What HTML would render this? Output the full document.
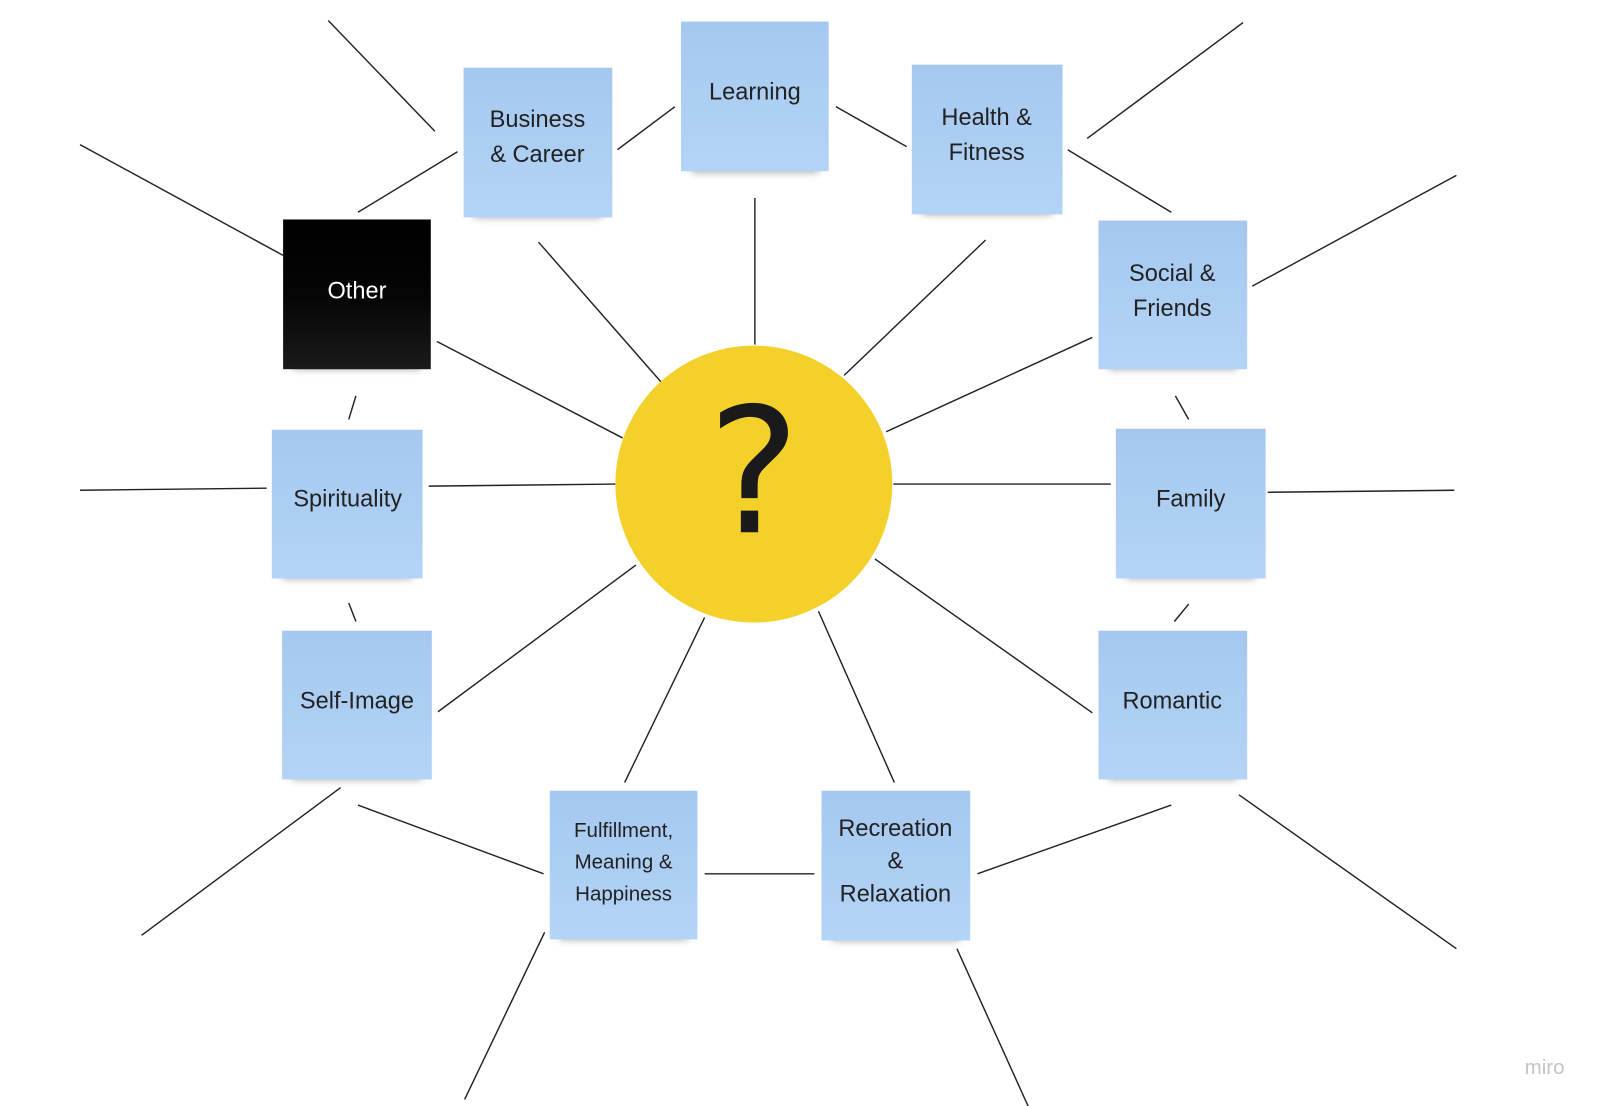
<!DOCTYPE html>
<html><head><meta charset="utf-8"><style>
html,body{margin:0;padding:0;background:#fff;}
svg{display:block;}
text{font-family:"Liberation Sans","DejaVu Sans",sans-serif;}
</style></head><body>
<svg width="1600" height="1106" viewBox="0 0 1560 1078.4" xmlns="http://www.w3.org/2000/svg">
<defs>
<linearGradient id="b" x1="0" y1="0" x2="0" y2="1"><stop offset="0" stop-color="#a6c8f0"/><stop offset="1" stop-color="#b3d4f6"/></linearGradient>
<linearGradient id="k" x1="0" y1="0" x2="0" y2="1"><stop offset="0" stop-color="#000"/><stop offset="0.5" stop-color="#050505"/><stop offset="1" stop-color="#1a1a1a"/></linearGradient>
<filter id="s" x="-20%" y="-20%" width="140%" height="160%"><feGaussianBlur stdDeviation="4"/></filter>
</defs>
<g stroke="#222" stroke-width="1.4" fill="none">
<line x1="320" y1="20" x2="424" y2="128"/>
<line x1="78" y1="141" x2="276" y2="249"/>
<line x1="349" y1="207" x2="446" y2="148"/>
<line x1="602" y1="146" x2="658" y2="104"/>
<line x1="815" y1="104" x2="884" y2="143"/>
<line x1="1060" y1="135" x2="1212" y2="22"/>
<line x1="1041" y1="146" x2="1142" y2="207"/>
<line x1="1221" y1="279" x2="1420" y2="171"/>
<line x1="1146" y1="386" x2="1159" y2="409"/>
<line x1="1236" y1="480" x2="1418" y2="478"/>
<line x1="1145" y1="606" x2="1159" y2="589"/>
<line x1="1208" y1="775" x2="1420" y2="925"/>
<line x1="953" y1="852" x2="1142" y2="785"/>
<line x1="933" y1="925" x2="1004" y2="1082"/>
<line x1="687" y1="852" x2="794" y2="852"/>
<line x1="531" y1="909" x2="453" y2="1072"/>
<line x1="349" y1="785" x2="530" y2="852"/>
<line x1="332" y1="768" x2="138" y2="912"/>
<line x1="340" y1="588" x2="347" y2="606"/>
<line x1="78" y1="478" x2="260" y2="476"/>
<line x1="340" y1="409" x2="347" y2="386"/>
<line x1="426" y1="333" x2="607" y2="427"/>
<line x1="525" y1="236" x2="645" y2="373"/>
<line x1="736" y1="193" x2="736" y2="336"/>
<line x1="961" y1="234" x2="823" y2="366"/>
<line x1="1065" y1="329" x2="864" y2="421"/>
<line x1="871" y1="472" x2="1083" y2="472"/>
<line x1="853" y1="545" x2="1065" y2="695"/>
<line x1="798" y1="596" x2="872" y2="763"/>
<line x1="687" y1="602" x2="609" y2="763"/>
<line x1="620" y1="551" x2="427" y2="694"/>
<line x1="418" y1="474" x2="600" y2="472"/>
</g>
<circle cx="735" cy="472" r="135" fill="#f4d02a"/>
<text x="735" y="519" font-size="170" text-anchor="middle" fill="#1a1a1a" style="font-family:'DejaVu Sans',sans-serif">?</text>
<g>
<!-- shadows -->
<g fill="#000" opacity="0.35" filter="url(#s)">
<rect x="462" y="202" width="125" height="10"/>
<rect x="674" y="158" width="124" height="10"/>
<rect x="899" y="199" width="127" height="10"/>
<rect x="1081" y="350" width="125" height="10"/>
<rect x="1098" y="554" width="126" height="10"/>
<rect x="1081" y="750" width="125" height="10"/>
<rect x="811" y="907" width="125" height="10"/>
<rect x="546" y="906" width="124" height="10"/>
<rect x="285" y="750" width="126" height="10"/>
<rect x="275" y="554" width="127" height="10"/>
<rect x="286" y="350" width="124" height="10"/>
</g>
<rect x="452" y="66" width="145" height="146" fill="url(#b)"/>
<rect x="664" y="21" width="144" height="146" fill="url(#b)"/>
<rect x="889" y="63" width="147" height="146" fill="url(#b)"/>
<rect x="1071" y="215" width="145" height="145" fill="url(#b)"/>
<rect x="1088" y="418" width="146" height="146" fill="url(#b)"/>
<rect x="1071" y="615" width="145" height="145" fill="url(#b)"/>
<rect x="801" y="771" width="145" height="146" fill="url(#b)"/>
<rect x="536" y="771" width="144" height="145" fill="url(#b)"/>
<rect x="275" y="615" width="146" height="145" fill="url(#b)"/>
<rect x="265" y="419" width="147" height="145" fill="url(#b)"/>
<rect x="276" y="214" width="144" height="146" fill="url(#k)"/>
</g>
<g font-size="23" fill="#222" text-anchor="middle">
<text x="524" y="124">Business</text><text x="524" y="158">&amp; Career</text>
<text x="736" y="97">Learning</text>
<text x="962" y="122">Health &amp;</text><text x="962" y="156">Fitness</text>
<text x="1143" y="274">Social &amp;</text><text x="1143" y="308">Friends</text>
<text x="1161" y="494">Family</text>
<text x="1143" y="691">Romantic</text>
<text x="873" y="815">Recreation</text><text x="873" y="847">&amp;</text><text x="873" y="879">Relaxation</text>
<text x="608" y="816" font-size="20">Fulfillment,</text><text x="608" y="847" font-size="20">Meaning &amp;</text><text x="608" y="878" font-size="20">Happiness</text>
<text x="348" y="691">Self-Image</text>
<text x="339" y="494">Spirituality</text>
<text x="348" y="291" fill="#fff">Other</text>
</g>
<text x="1506" y="1047" font-size="20" fill="#c4c4c8" text-anchor="middle">miro</text>
</svg>
</body></html>
